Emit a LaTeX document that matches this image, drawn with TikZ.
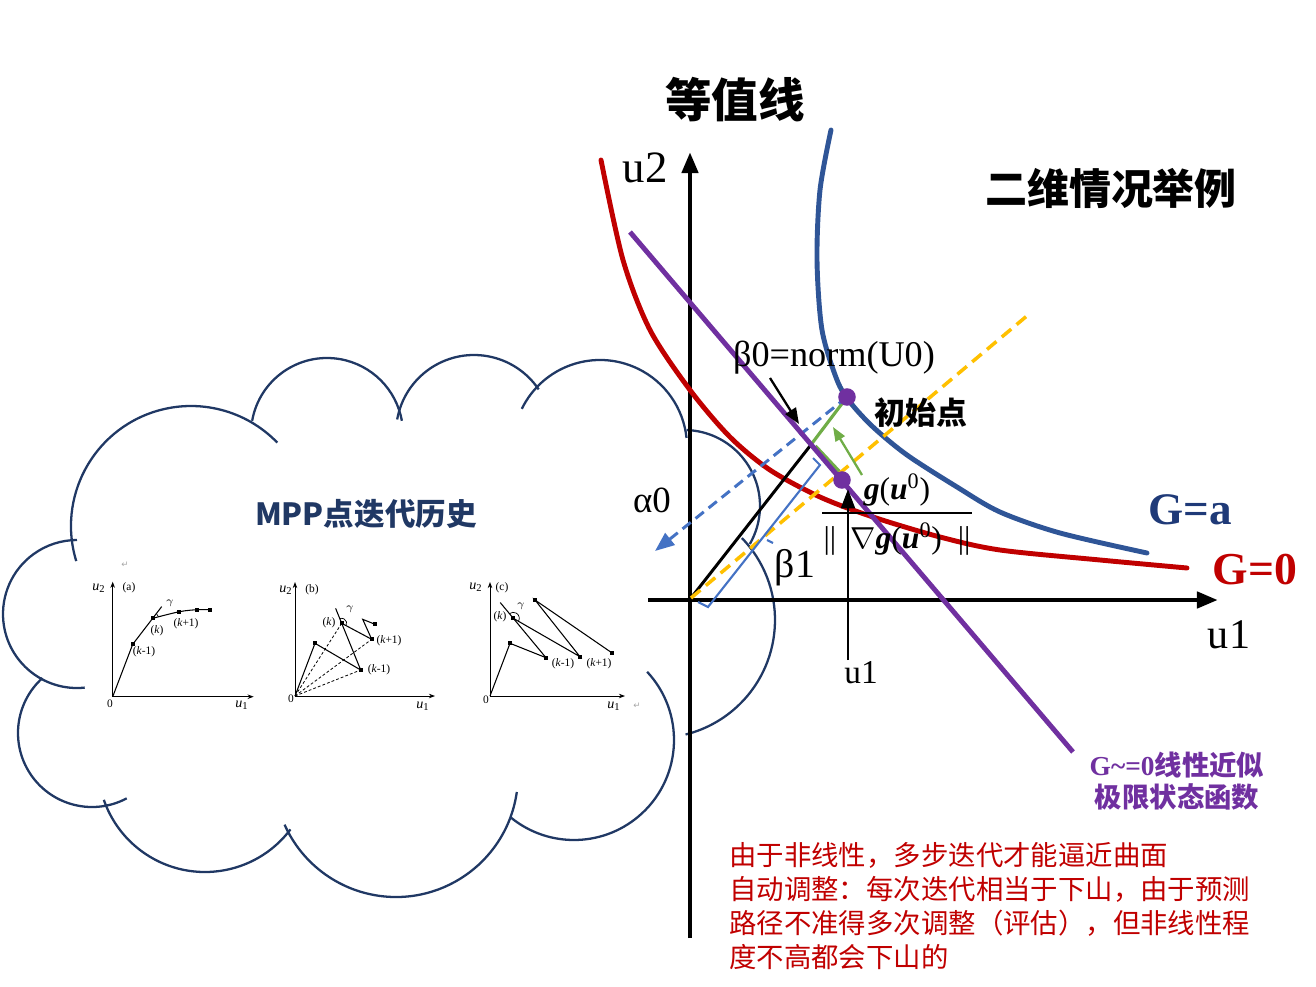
\documentclass[tikz,border=0pt]{standalone}
\usepackage{fontspec}
\setmainfont{Liberation Serif}
\newfontfamily\cjk{Noto Sans CJK SC}
\newfontfamily\symfont{DejaVu Sans}
\usetikzlibrary{arrows.meta,positioning,calc}
\definecolor{isoRed}{HTML}{C00000}
\definecolor{isoBlue}{HTML}{2F5597}
\definecolor{isoPurple}{HTML}{7030A0}
\definecolor{isoGold}{HTML}{FFC000}
\definecolor{isoSky}{HTML}{4472C4}
\definecolor{isoGreen}{HTML}{70AD47}
\definecolor{isoNavy}{HTML}{203864}
\definecolor{isoInk}{HTML}{1F3A78}
\tikzset{
  axisline/.style={line width=2.8pt,-{Triangle[length=12pt,width=9pt]}},
  limit/.style={line width=2.8pt,line cap=round},
  puff/.style={draw=isoNavy,line width=1.3pt},
  dotpt/.style={circle,fill=isoPurple,inner sep=0pt,minimum size=10pt},
  txt/.style={inner sep=0pt},
  miniaxis/.style={line width=0.5pt,-{Stealth[length=3.5pt,width=2.6pt]}},
  miniline/.style={line width=0.6pt},
  minidash/.style={line width=0.45pt,dash pattern=on 1.6pt off 1.2pt},
  sq/.style={fill=black,inner sep=0pt,minimum size=2.4pt},
  minilbl/.style={inner sep=0pt,font=\fontsize{6.5}{7}\selectfont},
  miniax/.style={inner sep=0pt,font=\fontsize{8}{9}\selectfont},
  retmark/.style={inner sep=0pt,text=black!35,font=\symfont\fontsize{5}{6}\selectfont}
}
\newcommand{\kstep}[1]{(\textit{k}#1)}
\newcommand{\uax}[1]{\textit{u}\textsubscript{#1}}

\begin{document}
\begin{tikzpicture}[x=0.02cm,y=0.02cm,>=Latex]
  \useasboundingbox (0,0) rectangle (1316,-987);

  % cloud
  \foreach \cx/\cy/\r/\sa/\ea in {191/526/120/197/44,327/434/76/170/10,474/433/78/170/34,
      600/447/87/154/6,684/506/76/88/-30,657/620/118/44/-76,574/740/100/43/-129,
      396/775/122/-8/-156,205/765/107/-37/-161,92/733/74/-62/-228,77/614/74/-84/-270}
    \draw[puff] ([shift={(\sa:\r)}]\cx,-\cy) arc[start angle=\sa,end angle=\ea,radius=\r];
  \node[txt,text=isoNavy,font=\cjk\bfseries\fontsize{17.4}{20}\selectfont] (mpp) at (366,-514) {MPP点迭代历史};

  % plot (a)
  \coordinate (a0) at (112.7,-696.7);
  \coordinate (a1) at (132.7,-644.3);
  \coordinate (a2) at (152.7,-618.3);
  \coordinate (a3) at (179.3,-611.7);
  \coordinate (a4) at (196.7,-609.7);
  \coordinate (a5) at (210,-609.7);
  \draw[miniaxis] (a0) -- ++(0,115);
  \draw[miniaxis] (a0) -- ++(141,0);
  \draw[miniline] (a0) -- (a1) -- (a2) -- ($(a1)!1.45!(a2)$);
  \draw[miniline] plot[smooth] coordinates {(a2) (a3) (a4) (a5)};
  \draw[line width=0.4pt] (a2) ++(14:6) arc[start angle=14,end angle=52,radius=6];
  \foreach \p in {a1,a2,a3,a4,a5} \node[sq] (s\p) at (\p) {};
  \node[miniax] (a-u2) at (99,-588) {\uax{2}};
  \node[minilbl] (a-tag) at (129,-588) {(a)};
  \node[minilbl] (a-zero) at (110,-704) {0};
  \node[miniax] (a-u1) at (242,-705) {\uax{1}};
  \node[minilbl] (a-km) at (144,-652) {\kstep{-1}};
  \node[minilbl] (a-k) at (157,-631) {\kstep{}};
  \node[minilbl] (a-kp) at (186,-624) {\kstep{+1}};
  \node[minilbl] (a-g) at (170,-603) {$\gamma$};
  \node[retmark] (a-ret) at (125,-565) {↵};

  % plot (b)
  \coordinate (b0) at (295,-696);
  \coordinate (b1) at (315,-643.3);
  \coordinate (b2) at (360.7,-670);
  \coordinate (b3) at (341.7,-623.3);
  \coordinate (b4) at (371.7,-639.3);
  \coordinate (b5) at (362.7,-619.3);
  \coordinate (b6) at (375,-624.3);
  \draw[miniaxis] (b0) -- ++(0,114);
  \draw[miniaxis] (b0) -- ++(140,0);
  \draw[miniline] (b0) -- (b1) -- (b2) -- ($(b2)!1.32!(b3)$);
  \draw[miniline] (b3) -- (b4) -- (b5) -- (b6);
  \foreach \p in {b2,b3,b4} \draw[minidash] (b0) -- (\p);
  \draw[line width=0.4pt] (b3) ++(-28:5) arc[start angle=-28,end angle=114,radius=5];
  \foreach \p in {b1,b2,b3,b4,b6} \node[sq] (s\p) at (\p) {};
  \node[miniax] (b-u2) at (286,-590) {\uax{2}};
  \node[minilbl] (b-tag) at (312,-590) {(b)};
  \node[minilbl] (b-zero) at (291,-699) {0};
  \node[miniax] (b-u1) at (423,-706) {\uax{1}};
  \node[minilbl] (b-k) at (329,-623) {\kstep{}};
  \node[minilbl] (b-kp) at (389,-641) {\kstep{+1}};
  \node[minilbl] (b-km) at (379,-670) {\kstep{-1}};
  \node[minilbl] (b-g) at (350,-609) {$\gamma$};

  % plot (c)
  \coordinate (c0) at (490,-696);
  \coordinate (c1) at (510,-643.3);
  \coordinate (c2) at (546,-657.7);
  \coordinate (c3) at (513.3,-618.3);
  \coordinate (c4) at (580,-656.7);
  \coordinate (c5) at (535,-600);
  \coordinate (c6) at (611.7,-652.7);
  \draw[miniaxis] (c0) -- ++(0,114);
  \draw[miniaxis] (c0) -- ++(135,0);
  \draw[miniline] (c0) -- (c1) -- (c2) -- ($(c2)!1.4!(c3)$);
  \draw[miniline] (c3) -- (c4) -- (c5) -- (c6);
  \draw[line width=0.4pt] (c3) ++(-30:6) arc[start angle=-30,end angle=129,radius=6];
  \foreach \p in {c1,c2,c3,c4,c5,c6} \node[sq] (s\p) at (\p) {};
  \node[miniax] (c-u2) at (476,-587) {\uax{2}};
  \node[minilbl] (c-tag) at (502,-588) {(c)};
  \node[minilbl] (c-zero) at (486,-700) {0};
  \node[miniax] (c-u1) at (614,-706) {\uax{1}};
  \node[minilbl] (c-k) at (500,-617) {\kstep{}};
  \node[minilbl] (c-km) at (563,-664) {\kstep{-1}};
  \node[minilbl] (c-kp) at (599,-664) {\kstep{+1}};
  \node[minilbl] (c-g) at (521,-606) {$\gamma$};
  \node[retmark] (c-ret) at (637,-706) {↵};

  % axes
  \coordinate (O) at (691,-598);
  \coordinate (yBot) at (690,-938);
  \coordinate (yTop) at (690,-152);
  \coordinate (xL) at (648,-600);
  \coordinate (xR) at (1218,-600);
  \draw[axisline] (yBot) -- (yTop);
  \draw[axisline] (xL) -- (xR);

  % limit state curves
  \draw[limit,isoRed] plot[smooth] coordinates {(601,-160) (623,-260) (650,-330) (690,-390)
      (730,-437) (770,-470) (820,-497) (873,-517) (940,-537) (1000,-550) (1100,-560) (1187,-568)};
  \draw[limit,isoBlue] plot[smooth] coordinates {(831,-130) (820,-190) (817,-260) (822,-330)
      (837,-380) (850,-402) (873,-427) (907,-455) (957,-487) (1000,-512) (1060,-533) (1147,-553)};

  % construction lines
  \coordinate (p0c) at (847,-397);
  \coordinate (p1c) at (842,-480);
  \coordinate (J) at (810,-446);
  \coordinate (goldEnd) at (1028,-315);
  \coordinate (alphaTip) at (655,-551);
  \coordinate (linA) at (630,-232);
  \coordinate (linB) at (1073,-752);
  \draw[line width=1.7pt] (O) -- (J);
  \draw[isoGreen,line width=2pt] ([xshift=3]J) -- ([xshift=3]p1c);
  \draw[isoGreen,line width=1.8pt] (J) -- (p0c);
  \draw[isoGold,line width=2pt,dash pattern=on 7pt off 4pt] (O) -- (goldEnd);
  \draw[isoSky,line width=1.2pt] (813,-458) -- (820,-465) -- (708,-607) -- (698,-602);
  \draw[isoSky,line width=1.2pt] (767,-540) -- (773,-543);
  \draw[isoSky,line width=1.7pt,dash pattern=on 6pt off 3.5pt,-{Triangle[length=11pt,width=8.5pt]}] (p0c) -- (alphaTip);
  \draw[isoPurple,line width=2.8pt] (linA) -- (linB);
  \node[dotpt] (p0) at (p0c) {};
  \node[dotpt] (p1) at (p1c) {};

  % arrows
  \coordinate (b0Tail) at (770,-378);
  \coordinate (b0Tip) at (799,-424);
  \draw[line width=1.3pt,-{Triangle[length=9pt,width=7pt]}] (b0Tail) -- (b0Tip);
  \coordinate (gTail) at (862,-475);
  \coordinate (gTip) at (833,-427);
  \draw[isoGreen,line width=1.3pt,-{Triangle[length=8pt,width=6pt]}] (gTail) -- (gTip);
  \coordinate (gradTail) at (848,-660);
  \draw[line width=1.2pt,-{Triangle[length=11pt,width=8pt]}] (gradTail) -- (gradTail |- p1.south);

  % formula
  \node[txt,font=\fontsize{18}{20}\selectfont] (num) at (897,-490)
       {\textbf{\textit{g}}(\textbf{\textit{u}}\textsuperscript{0})};
  \node[txt,font=\fontsize{18}{20}\selectfont] (den) at (897,-539)
       {\textbar\textbar\hspace{8pt}$\nabla$\textbf{\textit{g}}(\textbf{\textit{u}}\textsuperscript{0})\hspace{9pt}\textbar\textbar};
  \coordinate (barL) at (822,-513);
  \coordinate (barR) at (972,-513);
  \draw[line width=0.9pt] (barL) -- (barR);

  % labels
  \node[txt,font=\cjk\bfseries\fontsize{26.5}{30}\selectfont] (title) at (735,-100) {等值线};
  \node[txt,font=\cjk\bfseries\fontsize{23.9}{28}\selectfont] (case) at (1111,-188) {二维情况举例};
  \node[txt,font=\fontsize{25.5}{28}\selectfont] (u2) at (645,-168) {u2};
  \node[txt,font=\fontsize{24}{28}\selectfont] (u1) at (1229,-635) {u1};
  \node[txt,font=\fontsize{19}{22}\selectfont] (u1s) at (861,-673) {u1};
  \node[txt,font=\fontsize{20.6}{24}\selectfont] (beta0) at (834,-358) {β0=norm(U0)};
  \node[txt,font=\cjk\bfseries\fontsize{17.6}{20}\selectfont] (start) at (921,-413) {初始点};
  \node[txt,font=\fontsize{21}{24}\selectfont] (alpha0) at (652,-500) {α0};
  \node[txt,font=\fontsize{22.7}{26}\selectfont] (beta1) at (795,-568) {β1};
  \node[txt,text=isoInk,font=\bfseries\fontsize{25.7}{28}\selectfont] (Ga) at (1190,-510) {G=a};
  \node[txt,text=isoRed,font=\bfseries\fontsize{26}{28}\selectfont] (G0) at (1255,-570) {G=0};
  \node[txt,text=isoPurple,align=center,font=\bfseries\fontsize{15.6}{18.2}\selectfont] (lin) at (1177,-781)
       {G\textasciitilde=0{\cjk 线性近似}\\{\cjk 极限状态函数}};
  \node[txt,text=isoRed,align=left,anchor=north west,font=\cjk\fontsize{15.6}{19.3}\selectfont] (note) at (729,-842)
       {由于非线性，多步迭代才能逼近曲面\\自动调整：每次迭代相当于下山，由于预测\\路径不准得多次调整（评估），但非线性程\\度不高都会下山的};
\end{tikzpicture}
\end{document}
